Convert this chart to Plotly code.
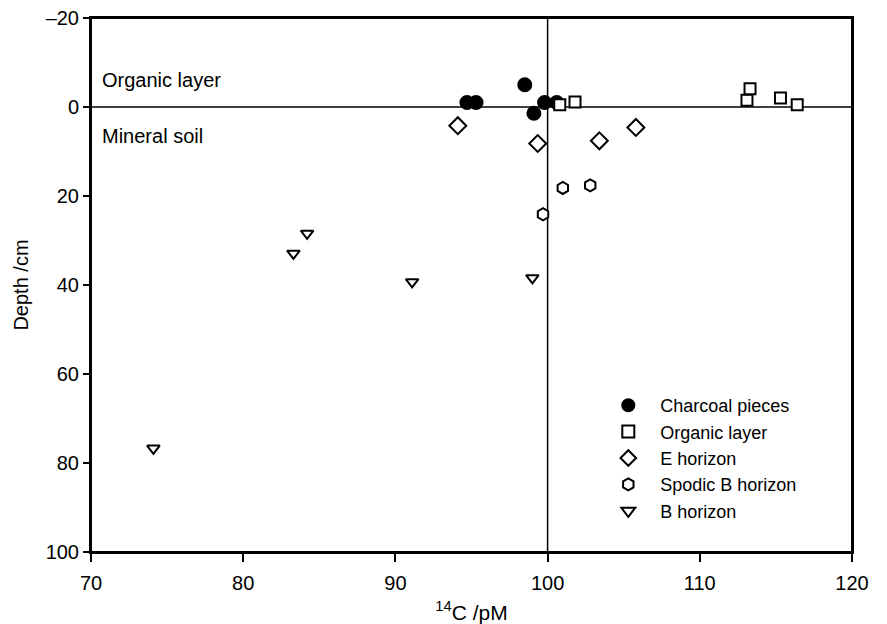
import plotly.graph_objects as go

# Data
charcoal_c14 = [94.7, 95.3, 98.5, 99.1, 99.8, 100.6]
charcoal_depth = [-1.0, -1.0, -5.0, 1.4, -1.0, -1.0]

organic_c14 = [100.8, 101.8, 113.1, 113.3, 115.3, 116.4]
organic_depth = [-0.5, -1.1, -1.5, -4.1, -2.0, -0.5]

e_c14 = [94.1, 99.35, 103.4, 105.8]
e_depth = [4.2, 8.2, 7.6, 4.6]

spodic_c14 = [101.0, 102.8, 99.7]
spodic_depth = [18.2, 17.6, 24.1]

b_c14 = [84.2, 83.3, 91.1, 99.0, 74.1]
b_depth = [28.4, 32.9, 39.3, 38.4, 76.7]

x_ticks = [70, 80, 90, 100, 110, 120]
y_ticks = [-20, 0, 20, 40, 60, 80, 100]

FONT = "Liberation Sans, Arial, sans-serif"
FS = 20

fig = go.Figure()

def add(name, x, y, symbol, size, filled):
    fig.add_trace(go.Scatter(
        x=x, y=y, mode="markers", name=name,
        marker=dict(
            symbol=symbol, size=size,
            color="black" if filled else "white",
            line=dict(color="black", width=2),
        ),
    ))

add("Charcoal pieces", charcoal_c14, charcoal_depth, "circle", 13, True)
add("Organic layer", organic_c14, organic_depth, "square", 11, False)
add("E horizon", e_c14, e_depth, "diamond", 13, False)
add("Spodic B horizon", spodic_c14, spodic_depth, "hexagon", 12, False)
add("B horizon", b_c14, b_depth, "triangle-down", 11, False)

fig.update_layout(
    width=887, height=624,
    margin=dict(l=91, r=35, t=18, b=72),
    paper_bgcolor="white", plot_bgcolor="white",
    font=dict(family=FONT, size=FS, color="black"),
    showlegend=True,
    legend=dict(
        x=0.664, y=0.309, xanchor="left", yanchor="top",
        bgcolor="rgba(0,0,0,0)", font=dict(size=18, family=FONT),
        tracegroupgap=0, itemsizing="constant", itemwidth=54,
    ),
    shapes=[
        dict(type="line", xref="x", yref="paper", x0=100, x1=100, y0=0, y1=1,
             line=dict(color="black", width=1.5), layer="below"),
        dict(type="line", xref="paper", yref="y", x0=0, x1=1, y0=0, y1=0,
             line=dict(color="black", width=1.5), layer="below"),
        dict(type="rect", xref="paper", yref="paper", x0=0, x1=1, y0=0, y1=1,
             line=dict(color="black", width=2), layer="below"),
    ],
    annotations=[
        dict(text="Organic layer", xref="paper", yref="y", x=0.012, y=-6.1,
             xanchor="left", yanchor="middle", showarrow=False,
             font=dict(size=FS, family=FONT)),
        dict(text="Mineral soil", xref="paper", yref="y", x=0.012, y=6.5,
             xanchor="left", yanchor="middle", showarrow=False,
             font=dict(size=FS, family=FONT)),
    ],
)

fig.update_xaxes(
    range=[70, 120], tickvals=x_ticks, ticktext=[str(v) for v in x_ticks],
    showgrid=False, zeroline=False, automargin=False,
    showline=True, linecolor="black", linewidth=2, mirror=True,
    ticks="outside", ticklen=8, tickwidth=2, tickcolor="black",
    ticklabelstandoff=4, ticklabeloverflow="allow",
    tickfont=dict(size=FS, family=FONT),
    title=dict(text="<sup>14</sup>C /pM", font=dict(size=21, family=FONT), standoff=15),
)
fig.update_yaxes(
    range=[100, -20], tickvals=y_ticks,
    ticktext=["\u201320" if v < 0 else str(v) for v in y_ticks],
    showgrid=False, zeroline=False, automargin=False,
    showline=True, linecolor="black", linewidth=2, mirror=True,
    ticks="outside", ticklen=6, tickwidth=2, tickcolor="black",
    ticklabeloverflow="allow",
    tickfont=dict(size=FS, family=FONT),
    title=dict(text="Depth /cm", font=dict(size=FS, family=FONT), standoff=12),
)

fig.write_html("out.html", config={"displayModeBar": False},
               post_script="document.body.style.margin='0';")
